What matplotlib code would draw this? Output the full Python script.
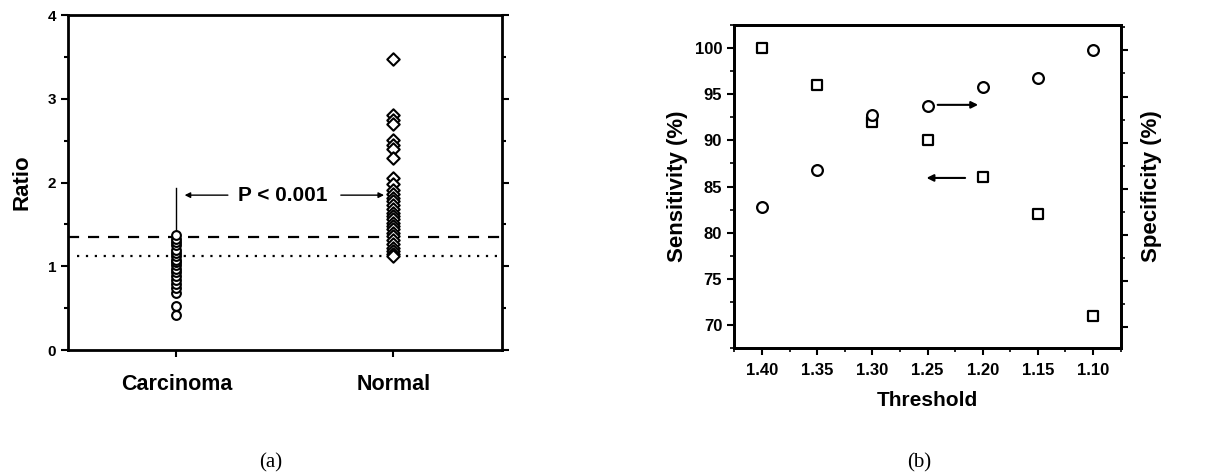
import numpy as np
import matplotlib
matplotlib.use("Agg")
import matplotlib.pyplot as plt
from matplotlib.ticker import MultipleLocator

# panel (a) data
groups = ["Carcinoma", "Normal"]
carcinoma = [0.42, 0.52, 0.68, 0.74, 0.79, 0.84, 0.89, 0.93, 0.97, 1.01, 1.05,
             1.08, 1.12, 1.16, 1.20, 1.25, 1.29, 1.33, 1.37]
normal = [3.48, 2.81, 2.75, 2.70, 2.51, 2.45, 2.40, 2.29, 2.05, 1.98, 1.91, 1.86,
          1.82, 1.78, 1.73, 1.68, 1.64, 1.60, 1.56, 1.52, 1.48, 1.44, 1.40, 1.36,
          1.32, 1.27, 1.22, 1.18, 1.15, 1.12]
cut_dash = 1.35
cut_dot = 1.12

# panel (b) data
threshold = [1.40, 1.35, 1.30, 1.25, 1.20, 1.15, 1.10]
sensitivity = [100, 96, 92, 90, 86, 82, 71]
specificity = [83, 87, 93, 94, 96, 97, 100]

bold = dict(family=["Liberation Sans", "DejaVu Sans"], weight="bold")
plt.rcParams["font.family"] = ["Liberation Sans", "DejaVu Sans"]

fig = plt.figure(figsize=(12.18, 4.74), dpi=100)

# ---------- (a)
ax1 = fig.add_axes([0.0558, 0.2616, 0.3562, 0.7064])
ax1.scatter(np.zeros(len(carcinoma)), carcinoma, s=40, marker="o",
            facecolors="white", edgecolors="black", linewidths=1.5, zorder=3)
ax1.scatter(np.ones(len(normal)), normal, s=40, marker="D",
            facecolors="white", edgecolors="black", linewidths=1.5, zorder=3)
ax1.axhline(cut_dash, color="black", lw=1.6, ls=(0, (5, 4)))
ax1.plot([-0.46, 1.5], [cut_dot, cut_dot], color="black", lw=1.6, ls=(0, (1, 3)))
ax1.plot([0, 0], [max(carcinoma), 1.93], color="black", lw=1)
ax1.annotate("", xy=(0.025, 1.85), xytext=(0.25, 1.85),
             arrowprops=dict(arrowstyle="-|>", color="black", lw=1, mutation_scale=8))
ax1.annotate("", xy=(0.97, 1.85), xytext=(0.745, 1.85),
             arrowprops=dict(arrowstyle="-|>", color="black", lw=1, mutation_scale=8))
ax1.text(0.49, 1.84, "P < 0.001", ha="center", va="center", fontsize=15, **bold)
ax1.set_xlim(-0.5, 1.5)
ax1.set_ylim(0, 4)
ax1.set_xticks([0, 1])
ax1.set_xticklabels(groups, fontsize=15.5, **bold)
ax1.yaxis.set_major_locator(MultipleLocator(1))
ax1.yaxis.set_minor_locator(MultipleLocator(0.5))
for lab in ax1.get_yticklabels():
    lab.set_fontweight("bold")
    lab.set_fontsize(11)
ax1.tick_params(axis="y", which="both", right=True, direction="out", width=1.5)
ax1.tick_params(axis="y", which="major", length=5)
ax1.tick_params(axis="y", which="minor", length=3)
ax1.tick_params(axis="x", length=5, width=1.5, pad=12)
ax1.set_ylabel("Ratio", fontsize=16, labelpad=11, **bold)
for sp in ax1.spines.values():
    sp.set_linewidth(2)
fig.text(0.222, 0.023, "(a)", family="Liberation Serif", fontsize=15,
         ha="center", va="center")

# ---------- (b)
ax2 = fig.add_axes([0.6026, 0.2658, 0.3178, 0.6814])
ax2.scatter(threshold, sensitivity, s=45, marker="s", facecolors="white",
            edgecolors="black", linewidths=1.6, zorder=3)
ax2.set_xlim(1.4254, 1.0746)
ax2.set_ylim(67.5, 102.5)
ax2.xaxis.set_major_locator(MultipleLocator(0.05))
ax2.xaxis.set_minor_locator(MultipleLocator(0.025))
ax2.yaxis.set_major_locator(MultipleLocator(5))
ax2.yaxis.set_minor_locator(MultipleLocator(2.5))
ax2.xaxis.set_major_formatter(plt.FuncFormatter(lambda v, p: "%.2f" % v))
ax2.tick_params(which="major", length=5, width=1.5, direction="out")
ax2.tick_params(which="minor", length=3, width=1.2, direction="out")
ax2.tick_params(axis="x", pad=6)
for lab in ax2.get_xticklabels() + ax2.get_yticklabels():
    lab.set_fontweight("bold")
    lab.set_fontsize(12)
ax2.set_xlabel("Threshold", fontsize=15, labelpad=9, **bold)
ax2.set_ylabel("Sensitivity (%)", fontsize=16, labelpad=5, **bold)
ax2.annotate("", xy=(1.2534, 85.93), xytext=(1.2134, 85.93),
             arrowprops=dict(arrowstyle="-|>", color="black", lw=1.5, mutation_scale=10))
ax2.annotate("", xy=(1.2016, 93.85), xytext=(1.2433, 93.85),
             arrowprops=dict(arrowstyle="-|>", color="black", lw=1.5, mutation_scale=10))

ax3 = ax2.twinx()
ax3.scatter(threshold, specificity, s=60, marker="o", facecolors="white",
            edgecolors="black", linewidths=1.6, zorder=3)
ax3.set_ylim(67.75, 102.75)
ax3.yaxis.set_major_locator(MultipleLocator(5))
ax3.yaxis.set_minor_locator(MultipleLocator(2.5))
ax3.tick_params(which="major", length=5, width=1.5, labelright=False)
ax3.tick_params(which="minor", length=3, width=1.2)
ax3.set_ylabel("Specificity (%)", fontsize=16, labelpad=8, **bold)
for sp in list(ax2.spines.values()) + list(ax3.spines.values()):
    sp.set_linewidth(2)
fig.text(0.755, 0.023, "(b)", family="Liberation Serif", fontsize=15,
         ha="center", va="center")

fig.savefig("out.png", dpi=100)
